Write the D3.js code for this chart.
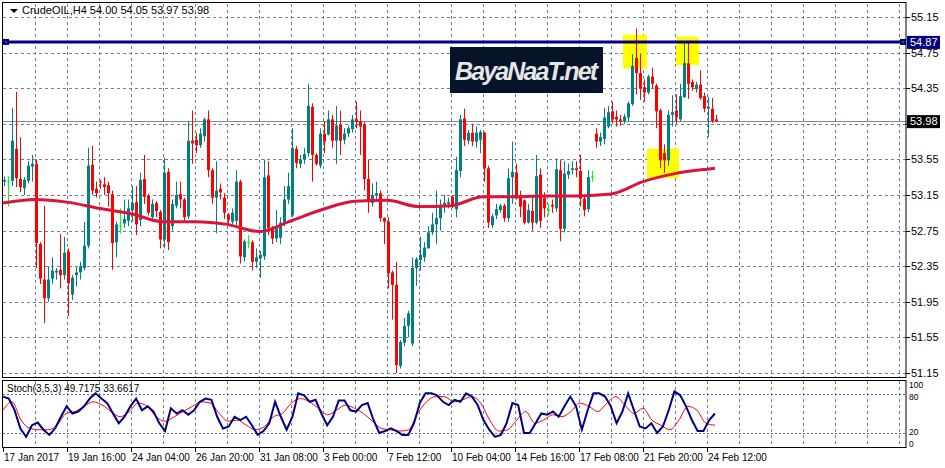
<!DOCTYPE html>
<html><head><meta charset="utf-8">
<script src="https://cdn.jsdelivr.net/npm/d3@7"></script>
<style>body{margin:0;background:#fff}svg{display:block}text{font-family:"Liberation Sans",Arial,sans-serif}</style>
</head><body><svg id="c" width="945" height="468"></svg>
<script>
const open=[53.30,53.31,53.31,53.67,53.33,53.23,53.31,53.47,53.50,52.60,52.20,51.99,52.21,52.28,52.31,52.25,52.51,52.03,52.25,52.28,52.33,52.58,53.49,53.22,53.30,53.27,53.26,53.16,52.62,52.80,52.83,52.86,52.98,53.07,52.87,53.33,53.14,52.90,53.06,52.96,52.65,53.41,52.80,53.03,53.16,53.10,52.91,53.76,53.77,53.71,53.81,54.00,53.43,53.12,53.22,53.12,52.93,52.85,52.86,53.30,52.45,52.62,52.62,52.40,52.44,52.46,53.37,52.78,52.66,52.67,52.84,53.10,52.92,53.67,53.50,53.55,53.62,54.14,53.60,53.48,53.84,53.83,54.00,53.76,53.94,53.77,53.84,53.89,54.00,53.98,53.94,53.33,53.06,53.15,53.17,52.89,52.85,52.28,52.14,51.23,51.49,51.68,51.48,52.33,52.42,52.45,52.55,52.73,52.82,52.89,53.03,53.05,53.13,52.99,53.42,54.01,53.76,53.85,53.75,53.77,53.85,53.45,52.81,52.92,52.98,53.03,52.89,53.35,53.40,53.13,53.09,52.84,52.97,52.84,53.38,53.12,52.99,53.04,53.00,53.43,52.77,53.38,53.43,53.45,53.42,53.11,52.99,53.36,53.84,53.75,53.78,53.92,54.09,54.03,54.00,53.98,54.02,54.17,54.69,54.52,54.36,54.30,54.48,54.38,54.10,53.62,53.54,54.05,54.10,54.00,54.25,54.63,54.42,54.34,54.39,54.26,54.12,54.12,54.00];
const high=[53.36,53.36,54.13,54.31,53.80,53.35,53.53,53.60,53.55,52.62,53.03,52.35,52.45,52.33,52.71,52.68,52.55,52.25,52.34,52.40,52.85,53.68,53.70,53.30,53.32,53.35,53.30,53.20,52.85,53.00,53.10,53.10,53.25,53.25,53.40,53.60,53.16,53.10,53.08,52.98,53.57,53.45,53.10,53.30,53.30,53.12,53.98,54.10,53.85,53.90,54.02,54.10,53.45,53.53,53.28,53.17,52.95,53.00,53.43,53.32,52.65,52.70,52.64,52.55,52.52,53.55,53.53,52.80,52.98,52.90,53.25,53.40,53.90,53.70,53.60,53.68,54.40,54.18,53.62,53.90,53.98,54.10,54.05,54.15,54.10,53.90,53.93,54.05,54.20,54.10,53.97,53.55,53.28,53.30,53.20,52.90,52.90,52.30,52.40,51.52,51.77,51.85,52.45,52.45,52.68,52.62,52.80,52.95,53.20,53.10,53.15,53.12,53.15,53.58,54.05,54.12,53.88,53.95,53.92,53.88,53.86,53.48,52.94,53.05,53.05,53.05,53.45,53.75,53.50,53.20,53.10,53.05,53.15,53.60,53.45,53.18,53.05,53.10,53.56,53.55,53.53,53.50,53.53,53.53,53.60,53.13,53.43,53.42,53.90,53.85,54.13,54.15,54.20,54.10,54.05,54.06,54.20,54.73,55.02,54.74,54.45,54.50,54.58,54.40,54.12,53.72,54.10,54.27,54.28,54.40,54.87,54.87,54.45,54.42,54.55,54.30,54.25,54.24,54.05];
const low=[53.25,53.02,53.25,53.24,53.18,53.15,53.28,53.30,52.33,52.15,51.71,51.95,52.15,52.20,52.10,52.20,51.79,51.97,52.12,52.20,52.30,52.55,53.15,53.12,53.22,53.15,53.02,52.31,52.45,52.72,52.78,52.80,52.85,52.70,52.80,53.05,52.92,52.85,52.90,52.55,52.55,52.53,52.75,53.00,53.00,52.85,52.88,53.50,53.62,53.68,53.75,53.35,53.05,52.72,53.10,52.88,52.80,52.82,52.80,52.38,52.40,52.55,52.30,52.33,52.22,52.42,52.70,52.60,52.62,52.60,52.80,53.05,52.90,53.45,53.45,53.50,53.58,53.30,53.48,53.45,53.62,53.82,53.68,53.50,53.60,53.72,53.80,53.85,53.90,53.60,53.20,52.95,53.02,53.10,52.85,52.60,52.10,51.75,51.15,51.20,51.45,51.55,51.45,52.13,52.30,52.40,52.55,52.70,52.60,52.75,52.95,53.00,53.00,52.90,53.35,53.70,53.72,53.70,53.68,53.62,53.30,52.78,52.78,52.88,52.95,52.85,52.85,53.05,53.10,52.90,52.82,52.83,52.75,52.82,52.78,52.90,52.92,52.95,52.96,52.63,52.73,53.33,53.38,53.35,53.02,52.91,52.96,53.30,53.68,53.70,53.72,53.90,53.95,53.92,53.93,53.95,53.98,54.15,54.28,54.22,54.20,54.28,54.35,53.90,53.45,53.40,53.48,53.92,53.95,53.98,54.24,54.23,54.32,54.30,54.22,54.08,53.80,53.96,53.97];
const close=[53.32,53.31,53.76,53.34,53.24,53.32,53.48,53.50,52.61,52.21,51.99,52.20,52.30,52.30,52.25,52.50,52.16,52.22,52.28,52.35,52.58,53.48,53.20,53.17,53.29,53.24,53.17,52.61,52.82,52.80,52.88,53.00,53.06,52.82,53.32,53.13,52.95,53.05,52.97,52.65,53.40,52.62,53.05,53.15,53.10,52.90,53.76,53.73,53.71,53.84,54.00,53.43,53.12,53.20,53.18,52.95,52.87,52.95,53.30,52.46,52.63,52.62,52.40,52.45,52.48,53.35,52.78,52.66,52.80,52.84,53.10,53.25,53.68,53.51,53.55,53.61,54.15,53.60,53.50,53.84,53.75,54.00,53.76,53.93,53.76,53.84,53.90,54.00,53.97,53.92,53.33,53.07,53.15,53.17,52.89,52.85,52.27,52.14,51.24,51.50,51.68,51.82,52.33,52.43,52.48,52.56,52.73,52.82,52.89,53.04,53.06,53.07,53.02,53.43,54.00,53.77,53.85,53.75,53.85,53.86,53.45,52.84,52.91,52.99,53.03,52.89,53.34,53.41,53.13,53.02,52.84,52.98,52.84,53.36,52.86,53.00,52.99,53.02,53.44,52.77,53.39,53.42,53.45,53.43,53.11,52.98,53.35,53.36,53.75,53.80,54.02,54.08,54.00,54.00,53.98,54.03,54.18,54.60,54.52,54.35,54.30,54.48,54.40,54.09,53.54,53.54,54.05,54.08,54.02,54.26,54.63,54.40,54.36,54.39,54.24,54.12,54.14,53.98,53.98];
const maValues=[53.06,53.10,53.07,53.00,52.94,52.85,52.85,52.82,52.74,52.86,52.99,53.08,53.09,53.02,53.03,53.13,53.13,53.14,53.14,53.16,53.30,53.39,53.44,53.45];
const maIndex=[0,8,16,24,32,40,48,56,64,72,80,88,96,104,112,120,128,136,144,152,160,168,176,178];
const stochMain=[76,73,55,27,14,32,36,25,17,27,45,61,50,53,61,73,81,73,66,50,35,45,61,73,55,61,53,35,23,58,50,55,48,55,68,73,71,45,27,30,45,40,45,32,17,23,35,68,45,25,45,81,78,68,71,50,32,45,70,70,55,53,63,66,40,20,23,27,23,17,17,35,66,81,81,78,68,63,71,68,81,76,63,40,25,14,17,35,66,63,20,20,35,50,48,53,45,61,76,61,25,55,81,81,76,61,35,53,81,55,30,27,35,20,30,55,84,78,61,40,23,23,40,50];
const stochSignal=[55,68,40,27,25,25,32,50,53,61,68,63,53,45,53,66,61,45,38,45,53,61,68,66,50,38,40,32,25,30,45,50,66,73,68,58,48,55,63,58,50,38,27,25,23,25,50,68,76,76,68,71,76,66,40,23,25,40,53,35,40,48,45,53,66,61,53,66,76,63,50,58,40,32,25,40,61,55,35,32];
const priceTicks=[55.15,54.75,54.35,53.95,53.55,53.15,52.75,52.35,51.95,51.55,51.15];
const dateLabels=["17 Jan 2017","19 Jan 16:00","24 Jan 04:00","26 Jan 20:00","31 Jan 08:00","3 Feb 00:00","7 Feb 12:00","10 Feb 04:00","14 Feb 16:00","17 Feb 08:00","21 Feb 20:00","24 Feb 12:00"];
const stochLevels=[100,80,20,0];
const hLine=54.87, lastPrice=53.98;
const boxes=[[155,161,54.95,54.57],[168.25,174,54.93,54.61],[161,169,53.67,53.34]];

const svg=d3.select("#c");
const x=d3.scaleLinear().domain([0,178]).range([3,715]);
const y=d3.scaleLinear().domain([51.15,55.15]).range([373,17]);
const ys=d3.scaleLinear().domain([0,100]).range([446,381]);
const L=3,R=906;
const grid="#708090";
const vIdx=d3.range(8,226,8);
[[4,377],[381,447]].forEach(([t,b])=>{
  svg.append("g").selectAll("line").data(vIdx).join("line")
   .attr("x1",d=>x(d)+0.5).attr("x2",d=>x(d)+0.5).attr("y1",t).attr("y2",b)
   .attr("stroke",grid).attr("stroke-dasharray","3,3");
});
svg.append("g").selectAll("line").data(priceTicks).join("line")
 .attr("x1",L).attr("x2",R).attr("y1",d=>Math.round(y(d))+0.5).attr("y2",d=>Math.round(y(d))+0.5)
 .attr("stroke",grid).attr("stroke-dasharray","3,3");
svg.append("g").selectAll("rect").data(boxes).join("rect")
 .attr("x",d=>x(d[0])).attr("width",d=>x(d[1])-x(d[0])).attr("y",d=>y(d[2])).attr("height",d=>y(d[3])-y(d[2]))
 .attr("fill","#ffff00");
const lg=svg.append("g");
lg.append("rect").attr("x",450).attr("y",47).attr("width",153).attr("height",46).attr("fill","#06142a");
lg.append("text").attr("x",455).attr("y",80).attr("font-size",25).attr("font-style","italic").attr("font-weight","bold")
 .attr("fill","#e6e6e6").attr("textLength",143).text("BayaNaaT.net");
svg.append("line").attr("x1",L).attr("x2",R).attr("y1",Math.round(y(lastPrice))+0.5).attr("y2",Math.round(y(lastPrice))+0.5).attr("stroke","#7a8a99");
const idx=d3.range(open.length);
const col=i=>close[i]>open[i]?"#008080":(close[i]<open[i]?"#ff0000":"#00ff00");
const cg=svg.append("g");
cg.selectAll("line").data(idx).join("line")
 .attr("x1",i=>x(i)+1.5).attr("x2",i=>x(i)+1.5).attr("y1",i=>y(high[i])).attr("y2",i=>y(low[i])).attr("stroke",col);
cg.selectAll("rect").data(idx).join("rect")
 .attr("x",i=>x(i)).attr("width",3)
 .attr("y",i=>y(Math.max(open[i],close[i]))).attr("height",i=>Math.max(1,Math.abs(y(open[i])-y(close[i]))))
 .attr("fill",col);
svg.append("path").datum(maIndex.map((d,k)=>[d,maValues[k]]))
 .attr("d",d3.line().x(d=>x(d[0])).y(d=>y(d[1])).curve(d3.curveMonotoneX))
 .attr("fill","none").attr("stroke","#dc143c").attr("stroke-width",3);
svg.append("line").attr("x1",L).attr("x2",R).attr("y1",y(hLine)).attr("y2",y(hLine)).attr("stroke","#000080").attr("stroke-width",3);
[3,900].forEach(px=>{svg.append("rect").attr("x",px).attr("y",y(hLine)-3).attr("width",6).attr("height",6).attr("fill","#000080");
 svg.append("rect").attr("x",px+2.5).attr("y",y(hLine)-0.5).attr("width",1).attr("height",1).attr("fill","#fff");});
[20,80].forEach(v=>svg.append("line").attr("x1",L).attr("x2",R).attr("y1",Math.round(ys(v))+0.5).attr("y2",Math.round(ys(v))+0.5)
 .attr("stroke","#4169e1").attr("stroke-dasharray","2,2"));
const sx=(arr)=>d3.scaleLinear().domain([0,arr.length-1]).range([0,178]);
const sm=sx(stochSignal), sk=sx(stochMain);
svg.append("path").datum(stochSignal).attr("d",d3.line().x((d,k)=>x(sm(k))).y(d=>ys(d)).curve(d3.curveMonotoneX))
 .attr("fill","none").attr("stroke","#ff0000").attr("stroke-width",1);
svg.append("path").datum(stochMain).attr("d",d3.line().x((d,k)=>x(sk(k))).y(d=>ys(d)))
 .attr("fill","none").attr("stroke","#000080").attr("stroke-width",2);
svg.append("rect").attr("x",2.5).attr("y",2.5).attr("width",R-2.5).attr("height",375).attr("fill","none").attr("stroke","#000");
svg.append("rect").attr("x",2.5).attr("y",380.5).attr("width",R-2.5).attr("height",67).attr("fill","none").attr("stroke","#000");
const pa=svg.append("g");
pa.selectAll("line").data(priceTicks).join("line").attr("x1",R).attr("x2",R+4).attr("y1",d=>Math.round(y(d))+0.5).attr("y2",d=>Math.round(y(d))+0.5).attr("stroke","#000");
pa.selectAll("text").data(priceTicks.filter(d=>Math.abs(d-lastPrice)>0.1)).join("text").attr("x",911).attr("y",d=>y(d)+4).attr("font-size",11).text(d=>d.toFixed(2));
function tag(v,bg){svg.append("rect").attr("x",907).attr("y",y(v)-6).attr("width",33).attr("height",13).attr("fill",bg);
 svg.append("text").attr("x",910).attr("y",y(v)+4).attr("font-size",11).attr("fill","#fff").text(v.toFixed(2));}
tag(hLine,"#000080"); tag(lastPrice,"#000");
const sBase={100:388,80:400,20:435,0:447};
svg.append("g").selectAll("text").data(stochLevels).join("text").attr("x",909).attr("y",d=>sBase[d]).attr("font-size",8.5).text(d=>d);
svg.append("path").attr("d","M10,9 L18,9 L14,13 Z").attr("fill","#000");
svg.append("text").attr("x",22).attr("y",14).attr("font-size",11).text("CrudeOIL,H4  54.00 54.05 53.97 53.98");
svg.append("text").attr("x",7).attr("y",392).attr("font-size",10).text("Stoch(3,5,3) 49.7175 33.6617");
const dIdx=dateLabels.map((d,k)=>k*16);
svg.append("g").selectAll("line").data(dIdx).join("line").attr("x1",d=>x(d)+0.5).attr("x2",d=>x(d)+0.5).attr("y1",447).attr("y2",452).attr("stroke","#000");
svg.append("g").selectAll("text").data(dateLabels).join("text").attr("x",(d,k)=>x(dIdx[k])+1).attr("y",461).attr("font-size",10).text(d=>d);
</script></body></html>
